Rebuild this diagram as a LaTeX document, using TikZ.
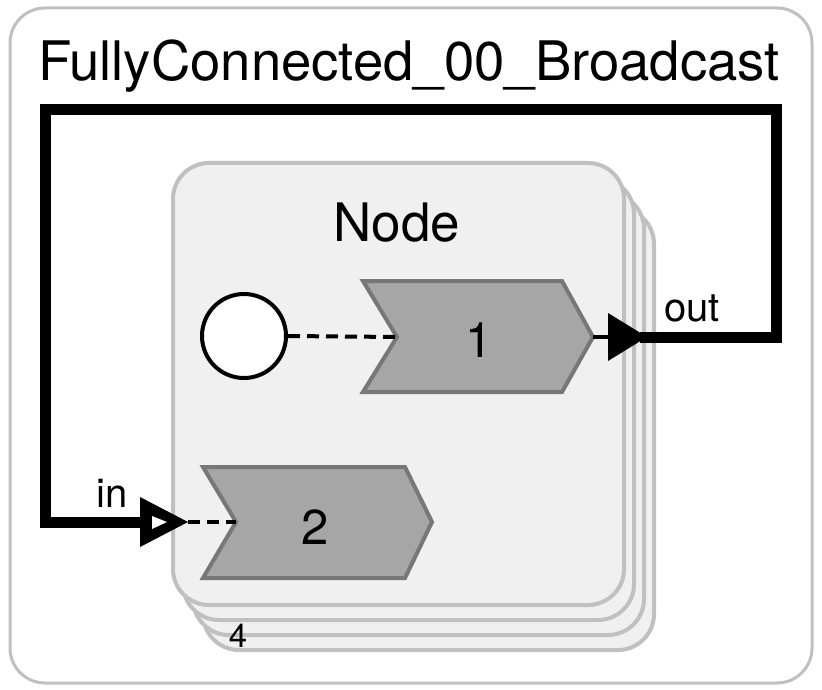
\documentclass[tikz,border=0pt]{standalone}
\usepackage{fontspec}
\setmainfont{TeX Gyre Heros}
\definecolor{boxfill}{HTML}{F0F0F0}
\definecolor{boxdraw}{HTML}{C0C0C0}
\definecolor{chevfill}{HTML}{A6A6A6}
\definecolor{chevdraw}{HTML}{777777}
\tikzset{
  outerbox/.style={draw=boxdraw, line width=3, rounded corners=35, fill=white},
  layerbox/.style={draw=boxdraw, line width=4, rounded corners=36, fill=boxfill},
  chevron/.style={draw=chevdraw, line width=4, fill=chevfill, line join=miter},
  wire/.style={line width=11, line join=miter, draw=black},
  thinwire/.style={line width=4, draw=black},
  dashwire/.style={line width=4, draw=black, dash pattern=on 12pt off 7pt},
  lbl/.style={inner sep=0, text=black},
}
\begin{document}
\begin{tikzpicture}[x=1pt,y=-1pt]
\useasboundingbox (0,0) rectangle (822,690);
\draw[outerbox] (10,8) rectangle (812,683);
\node[lbl, font=\fontsize{54.5}{60}\selectfont] (title) at (409,66) {FullyConnected\_00\_Broadcast};

% stacked node boxes
\foreach \i in {3,2,1} {
  \draw[layerbox] ({173+10*\i},{163+15*\i}) rectangle ({624+10*\i},{605+15*\i});
}
\draw[layerbox] (173,163) rectangle (624,605);
\node[lbl, font=\fontsize{53}{60}\selectfont] (nodelbl) at (397,223) {Node};
\node[lbl, font=\fontsize{33}{36}\selectfont] (count) at (238,636) {4};

% circle
\node[circle, draw=black, line width=4, fill=white, minimum size=84, inner sep=0] (src) at (244,336) {};

% chevron 1
\draw[chevron] (363,281) -- (562,281) -- (593,337) -- (562,392) -- (363,392) -- (397,337) -- cycle;
\coordinate (c1in) at (397,337);
\coordinate (c1out) at (593,337);
\node[lbl, font=\fontsize{49}{54}\selectfont] (one) at (479,340) {1};

% chevron 2
\draw[chevron] (203,467) -- (405,467) -- (432,522) -- (405,578) -- (203,578) -- (236,522) -- cycle;
\coordinate (c2in) at (236,522);
\node[lbl, font=\fontsize{49}{54}\selectfont] (two) at (315,527) {2};

% ports
\coordinate (outport) at (608,337);
\coordinate (outtip) at (647,337);
\coordinate (inbase) at (140,522);
\coordinate (intip) at (188,522);
\coordinate (k1) at (776,337);
\coordinate (k2) at (776,110);
\coordinate (k3) at (45,110);
\coordinate (k4) at (45,522);

\draw[dashwire] (src.east) -- (c1in);
\draw[thinwire] (c1out) -- (outport);
\draw[wire] (640,337) -- (k1) -- (k2) -- (k3) -- (k4) -- (inbase);
\fill[black] (608,313) -- (outtip) -- (608,361) -- cycle;
\fill[black] (140,497) -- (intip) -- (140,547) -- cycle;
\fill[white] (152,516) -- (167,522) -- (152,529) -- cycle;
\draw[dashwire] (intip) -- (c2in);

\node[lbl, font=\fontsize{40}{44}\selectfont] (outlbl) at (692,308) {out};
\node[lbl, font=\fontsize{40}{44}\selectfont] (inlbl) at (112,493) {in};
\end{tikzpicture}
\end{document}
